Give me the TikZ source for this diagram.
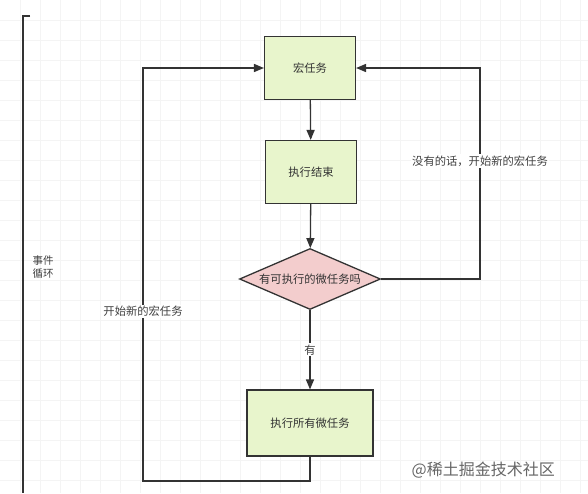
\documentclass[tikz,border=0pt]{standalone}
\usepackage{fontspec}
\newfontfamily\cjk{Noto Sans CJK SC}
\usetikzlibrary{arrows,shapes.geometric}
\definecolor{taskgreen}{HTML}{E8F5CC}
\definecolor{askpink}{HTML}{F3CDCD}
\definecolor{inkgray}{HTML}{333333}
\definecolor{gridgray}{HTML}{F4F4F4}

\begin{document}
\begin{tikzpicture}[x=1pt, y=-1pt, ->, >=triangle 45, line width=1.3pt, draw=inkgray,
  font=\cjk\fontsize{11.3}{14}\selectfont]

\useasboundingbox (0,0) rectangle (588,493);
\fill[white] (0,0) rectangle (588,493);
\foreach \gx in {20,40,...,580} \draw[-, gridgray, line width=0.6pt] (\gx,0) -- (\gx,493);
\foreach \gy in {20,40,...,480} \draw[-, gridgray, line width=0.6pt] (0,\gy) -- (588,\gy);

% event loop bracket
\draw[-, line width=1.4pt] (30,16) -- (23,16) -- (23,493);
\node[anchor=west, align=left, inner sep=0pt, text=black!75, font=\cjk\fontsize{10.5}{13}\selectfont]
  (loop) at (32,267) {事件\\循环};

\tikzstyle{every node}=[rectangle, fill=taskgreen, draw=inkgray, text=black!80, minimum width=91pt, minimum height=63pt]
\draw    (310, 68)  node (macro) {宏任务}
         (311, 172) node (done) {执行结束};
\draw    (310, 423) node[minimum width=126pt, minimum height=66pt] (micro) {执行所有微任务};

\tikzstyle{every node}=[diamond, aspect=2.3, inner sep=0pt, fill=askpink, draw=inkgray, text=black!80, minimum width=141pt, minimum height=61pt]
\draw    (310, 279) node (ask) {有可执行的微任务吗};

\tikzstyle{every node}=[fill=white, draw=none, text=black!75, inner sep=1.5pt]
\coordinate (rdown) at (480, 279);
\coordinate (rup)   at (480, 68);
\coordinate (ldown) at (310, 481);
\coordinate (lcorner) at (143, 481);
\coordinate (lup)   at (143, 68);

\draw (macro) -- (done);
\draw (done) -- (ask);
\draw (ask) -- node {有} (micro);
\draw (ask.east) -- (rdown) -- node[pos=0.56] {没有的话，开始新的宏任务} (rup) -- (macro.east);
\draw (micro.south) -- (ldown) -- (lcorner) -- node[pos=0.41] {开始新的宏任务} (lup) -- (macro.west);

\node[fill=none, text=black!60, anchor=west, inner sep=0pt, font=\cjk\fontsize{16}{18}\selectfont]
  (mark) at (411,470) {@稀土掘金技术社区};

\end{tikzpicture}
\end{document}
